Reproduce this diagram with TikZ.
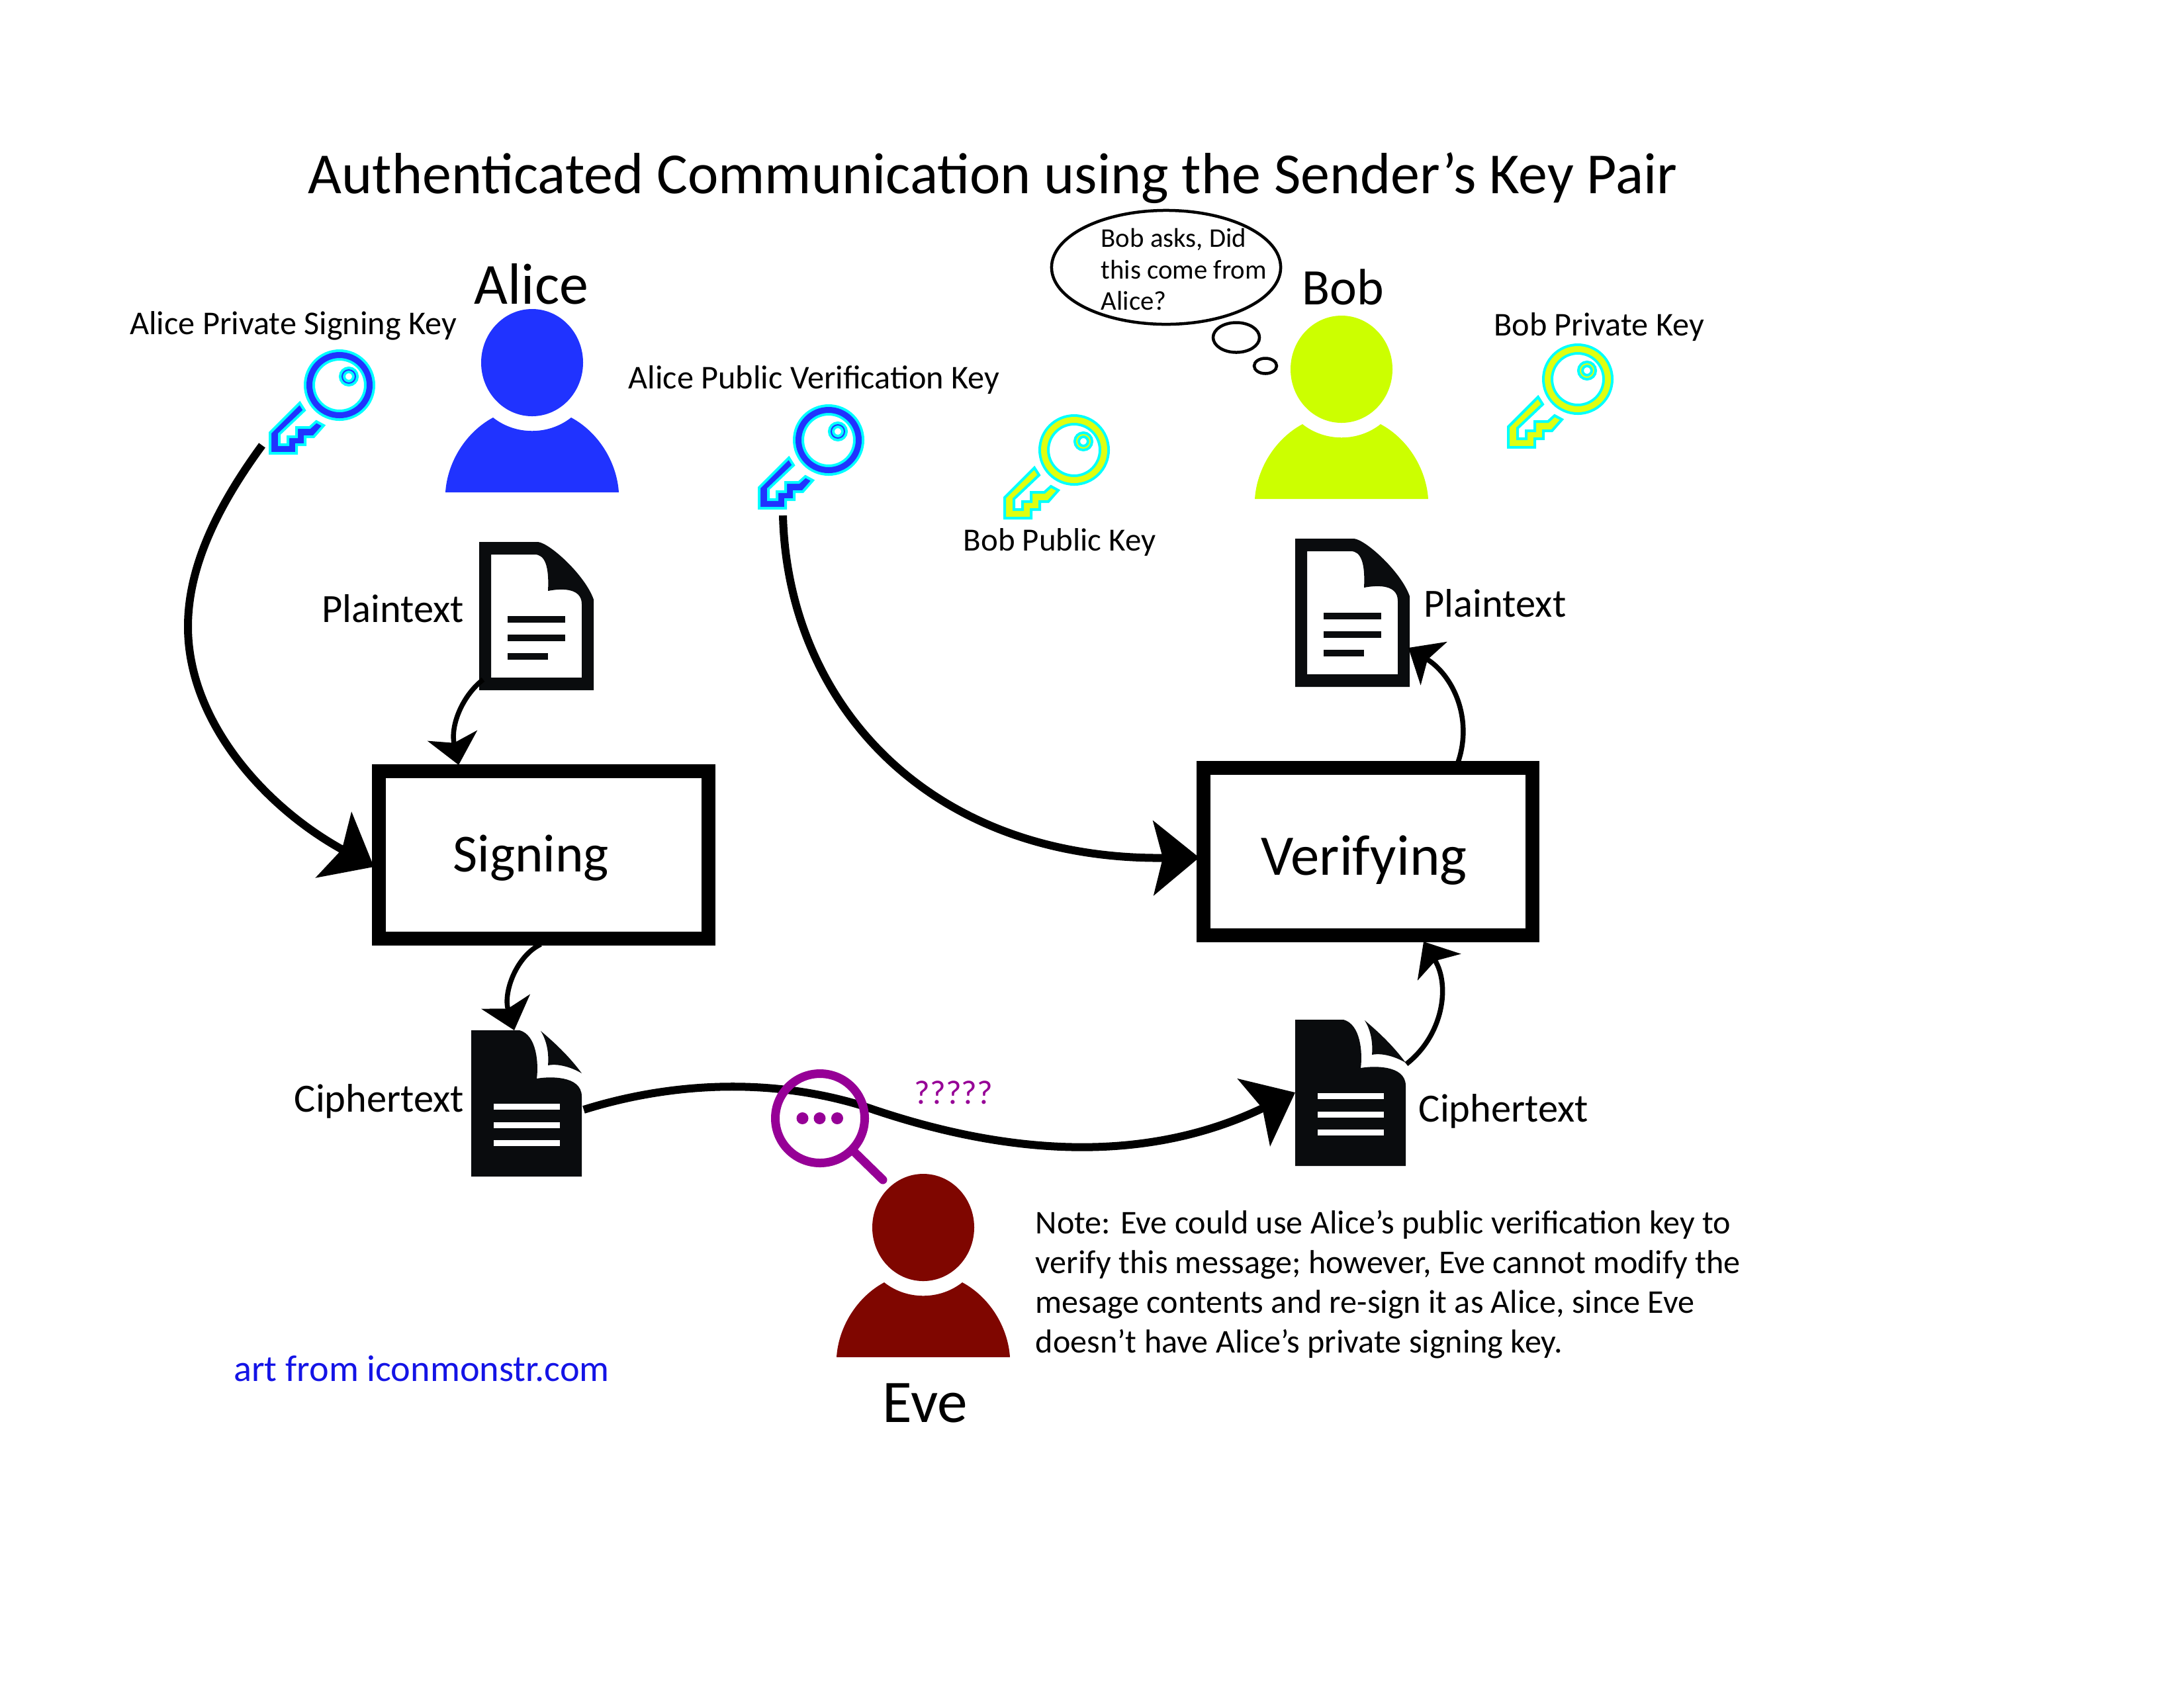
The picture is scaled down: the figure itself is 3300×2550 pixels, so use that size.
\documentclass[tikz,border=0pt]{standalone}
\usepackage{fontspec}
\setmainfont{Carlito}
\usetikzlibrary{arrows.meta,shapes.geometric}
\definecolor{aliceblue}{HTML}{2033FF}
\definecolor{boblime}{HTML}{CCFF00}
\definecolor{keylime}{HTML}{DFFF10}
\definecolor{keyrim}{HTML}{00FFFF}
\definecolor{evered}{HTML}{7F0600}
\definecolor{lenspurple}{HTML}{960096}
\definecolor{artblue}{HTML}{1414E6}
\definecolor{docblack}{HTML}{0A0C0E}

\begin{document}
\begin{tikzpicture}[x=0.01cm, y=-0.01cm,
  lbl/.style={anchor=mid, inner sep=0pt, font=\fontsize{14.3}{17}\selectfont},
  doclbl/.style={anchor=mid, inner sep=0pt, font=\fontsize{17.2}{20}\selectfont},
  who/.style={anchor=mid, inner sep=0pt, font=\fontsize{25}{29}\selectfont},
  stg/.style={draw=black, line width=0.21cm, minimum width=4.97cm, minimum height=2.53cm, inner sep=0pt, font=\fontsize{23}{27}\selectfont},
  arr/.style={-{Stealth[length=0.69cm, width=1.12cm, inset=0.14cm]}, line width=0.12cm, black},
  arrs/.style={-{Stealth[length=0.45cm, width=0.76cm, inset=0.11cm]}, line width=0.075cm, black},
  puff/.style={draw=black, ellipse, line width=0.045cm, inner sep=0pt},
  pics/person/.style={code={
    \fill[#1] (0,0) ellipse (77 and 81);
    \fill[#1] (-131,196) .. controls (-128,150) and (-100,105) .. (-59,83)
      .. controls (-25,110) and (25,110) .. (59,83)
      .. controls (100,105) and (128,150) .. (131,196) -- cycle;
  }},
  pics/keyicon/.style={code={
    \draw[keyrim, line width=0.17cm] (0,0) circle (45.5);
    \draw[#1, line width=0.09cm] (0,0) circle (45.5);
    \draw[keyrim, line width=0.10cm] (14,-13) circle (10);
    \draw[#1, line width=0.02cm] (14,-13) circle (10);
    \filldraw[fill=#1, draw=keyrim, line width=0.04cm, miter limit=4]
      (-60,27) -- (-105,72) -- (-105,103) -- (-65,103) -- (-65,90) -- (-52,90)
      -- (-52,78) -- (-39,78) -- (-24,61) -- (-35,55) -- (-45,64) -- (-65,64)
      -- (-65,78) -- (-78,78) -- (-78,90) -- (-91,90) -- (-91,74) -- (-53,38) -- cycle;
  }},
  pics/plaindoc/.style={code={
    \fill[docblack, even odd rule] (0,0) -- (89,0) .. controls (107,2) and (160,50) .. (173,87)
      -- (173,224) -- (0,224) -- cycle
      (18,19) -- (84,19) .. controls (99,19) and (106,36) .. (104,74)
      .. controls (119,71) and (155,67) .. (155,94) -- (155,205) -- (18,205) -- cycle;
    \foreach \y/\e in {112/130,140/130,168/104}{\fill[docblack] (43,\y) rectangle (\e,\y+10);}
  }},
  pics/cipherdoc/.style={code={
    \fill[docblack] (0,0) -- (73,0) .. controls (99,7) and (102,50) .. (99,73)
      .. controls (115,70) and (167,67) .. (167,100) -- (167,221) -- (0,221) -- cycle;
    \fill[docblack] (105,1) .. controls (130,22) and (150,42) .. (167,65)
      .. controls (150,55) and (130,50) .. (116,53) .. controls (118,30) and (112,12) .. (105,1) -- cycle;
    \foreach \y in {111,139,166}{\fill[white] (34,\y) rectangle (134,\y+9);}
  }}]

\path[fill=white, use as bounding box] (0,0) rectangle (3300,2550);

%% ── title ────────────────────────────────────────────────
\node[anchor=mid, inner sep=0pt, font=\fontsize{25}{30}\selectfont] (title) at (1500,284)
  {Authenticated Communication using the Sender’s Key Pair};

%% ── people ───────────────────────────────────────────────
\pic (alice) at (804,548) {person=aliceblue};
\pic (bob) at (2027,558) {person=boblime};
\pic (eve) at (1395,1855) {person=evered};
\node[who] (alicelbl) at (803,451) {Alice};
\node[who, font=\fontsize{22}{26}\selectfont] (boblbl) at (2029,452) {Bob};
\node[who, font=\fontsize{26}{30}\selectfont] (evelbl) at (1398,2141) {Eve};

%% ── keys ─────────────────────────────────────────────────
\pic (aprivkey) at (513,582) {keyicon=aliceblue};
\pic (apubkey) at (1252,665) {keyicon=aliceblue};
\pic (bpubkey) at (1623,680) {keyicon=keylime};
\pic (bprivkey) at (2384,573) {keyicon=keylime};
\node[lbl] (aprivlbl) at (443,497) {Alice Private Signing Key};
\node[lbl] (apublbl) at (1230,579) {Alice Public Verification Key};
\node[lbl, font=\fontsize{13.9}{17}\selectfont] (bpublbl) at (1601,824) {Bob Public Key};
\node[lbl] (bprivlbl) at (2416,499) {Bob Private Key};

%% ── documents ────────────────────────────────────────────
\pic (aplain) at (724,819) {plaindoc};
\pic (bplain) at (1957,814) {plaindoc};
\pic (acipher) at (712,1557) {cipherdoc};
\pic (bcipher) at (1957,1541) {cipherdoc};
\node[doclbl] (aplainlbl) at (594,932) {Plaintext};
\node[doclbl] (bplainlbl) at (2259,924) {Plaintext};
\node[doclbl] (acipherlbl) at (573,1672) {Ciphertext};
\node[doclbl] (bcipherlbl) at (2272,1687) {Ciphertext};

%% ── boxes ────────────────────────────────────────────────
\node[stg] (sign) at (821.5,1292) {\raisebox{-0.25cm}[0pt][0pt]{Signing}\kern0.38cm\relax};
\node[stg, font=\fontsize{24.7}{29}\selectfont] (verify) at (2067,1287) {\raisebox{-0.35cm}[0pt][0pt]{Verifying}\kern0.12cm\relax};

%% ── connectors ───────────────────────────────────────────
\coordinate (aprivend) at (396,673);
\coordinate (signwest) at (565,1310);
\coordinate (apubend) at (1183,779);
\coordinate (verifywest) at (1812,1296);
\coordinate (aplainend) at (730,1027);
\coordinate (signtop) at (693,1156);
\coordinate (signbot) at (817,1427);
\coordinate (aciphertop) at (777,1557);
\coordinate (acipherend) at (882,1677);
\coordinate (bcipherwest) at (1957,1651);
\coordinate (bcipherend) at (2125,1608);
\coordinate (verifybot) at (2151,1423);
\coordinate (verifytop) at (2203,1152);
\coordinate (bplainside) at (2128,979);

\draw[arr] (aprivend) .. controls (325,770) and (284,860) .. (284,947)
  .. controls (284,1090) and (400,1220) .. (signwest);
\draw[arr] (apubend) .. controls (1190,1060) and (1400,1300) .. (verifywest);
\draw[arrs] (aplainend) .. controls (700,1050) and (680,1095) .. (signtop);
\draw[arrs] (signbot) .. controls (780,1445) and (760,1500) .. (aciphertop);
\draw[arr] (acipherend) .. controls (1000,1640) and (1150,1625) .. (1300,1670)
  .. controls (1470,1730) and (1700,1775) .. (bcipherwest);
\draw[arrs] (bcipherend) .. controls (2180,1565) and (2192,1490) .. (verifybot);
\draw[arrs] (verifytop) .. controls (2226,1085) and (2195,1020) .. (bplainside);

%% ── magnifier ────────────────────────────────────────────
\draw[lenspurple, line width=0.13cm] (1239,1690) circle (67.5);
\foreach \x in {1212.5,1238.5,1265}{\fill[lenspurple] (\x,1690) circle (9);}
\draw[lenspurple, line width=0.13cm, line cap=round] (1292,1742) -- (1334,1783);
\node[lbl, text=lenspurple, font=\fontsize{14.5}{17}\selectfont] (marks) at (1441,1660) {?????};

%% ── thought bubble ───────────────────────────────────────
\node[puff, minimum width=3.46cm, minimum height=1.72cm] (bubble) at (1762,404) {};
\node[puff, minimum width=0.70cm, minimum height=0.45cm] (puffbig) at (1868,510) {};
\node[puff, minimum width=0.34cm, minimum height=0.23cm] (puffsmall) at (1912,553) {};
\node[anchor=west, inner sep=0pt, align=left, font=\fontsize{11.6}{13.5}\selectfont] (bubbletxt) at (1663,407)
  {Bob asks, Did\\this come from\\Alice?};

%% ── notes ────────────────────────────────────────────────
\node[anchor=west, inner sep=0pt, align=left, font=\fontsize{14.26}{17}\selectfont] (note) at (1564,1941)
  {Note: Eve could use Alice’s public verification key to\\
   verify this message; however, Eve cannot modify the\\
   mesage contents and re-sign it as Alice, since Eve\\
   doesn’t have Alice’s private signing key.};
\node[lbl, text=artblue, font=\fontsize{16}{19}\selectfont] (art) at (637,2079) {art from iconmonstr.com};
\end{tikzpicture}
\end{document}
